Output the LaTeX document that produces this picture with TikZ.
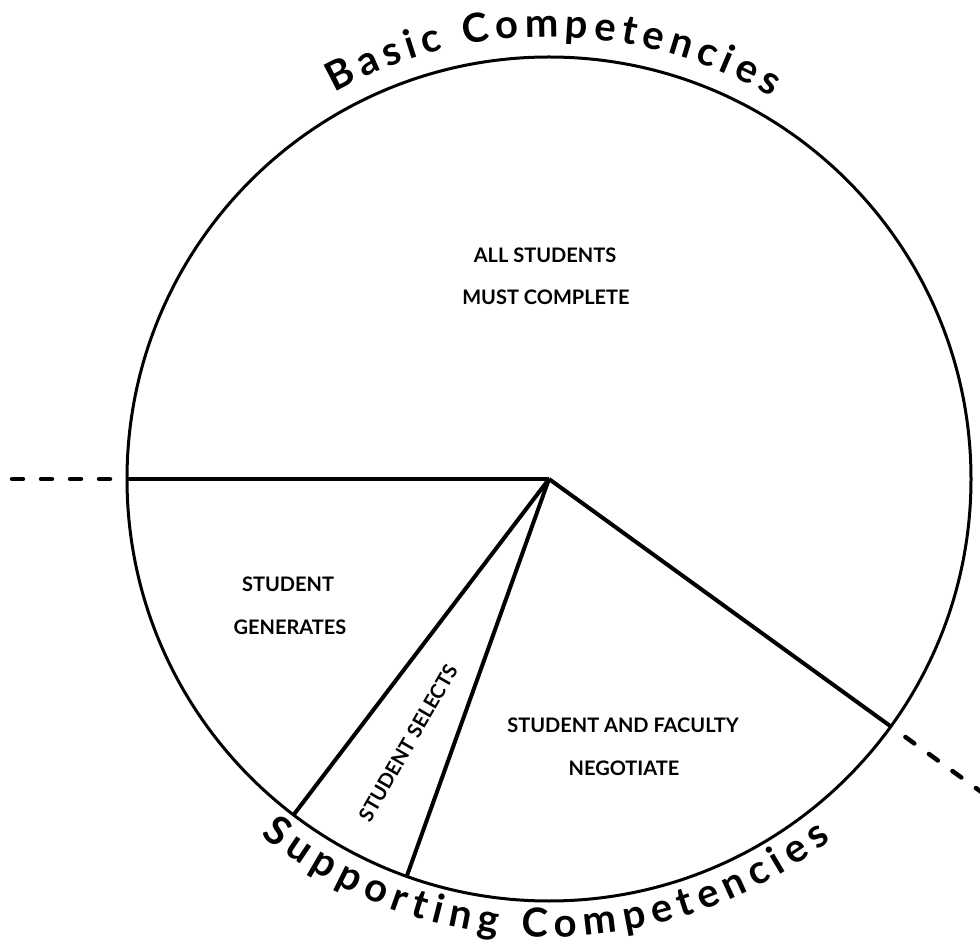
\documentclass[tikz,border=0pt]{standalone}
\usepackage{fontspec}
\setmainfont{Lato}
\usetikzlibrary{decorations.text,calc}
\newcommand\arcfont{\fontsize{40}{44}\selectfont\bfseries}
\begin{document}
\begin{tikzpicture}[x=1pt,y=1pt,
  ring/.style={line width=3pt},
  spoke/.style={line width=4pt},
  guide/.style={line width=4.5pt, line cap=round, dash pattern=on 11pt off 18pt},
  lbl/.style={font=\fontsize{20}{22}\selectfont\bfseries, inner sep=0pt},
  arctext/.style={decorate, decoration={text along path, text align=fit to path, text={|\arcfont|#1}}},
]
\useasboundingbox (0,0) rectangle (980,946);
\coordinate (c) at (549,467);
\draw[ring] (c) circle[radius=422pt];
% spoke ends
\path (c) ++(180:422pt) coordinate (pL);
\path (c) ++(-35.9:422pt) coordinate (pR);
\path (c) ++(232.75:422pt) coordinate (pA);
\path (c) ++(250.3:422pt) coordinate (pB);
\draw[spoke] (c) -- (pL);
\draw[spoke] (c) -- (pR);
\draw[spoke] (c) -- (pA);
\draw[spoke] (c) -- (pB);
% dashed continuations
\path (c) ++(180:537pt) coordinate (dL0);
\path (c) ++(180:439pt) coordinate (dL1);
\path (c) ++(-35.9:440pt) coordinate (dR0);
\path (c) ++(-35.9:545pt) coordinate (dR1);
\draw[guide] (dL0) -- (dL1);
\draw[guide] (dR0) -- (dR1);
% labels
\node[lbl] (all) at (545,691) {ALL STUDENTS};
\node[lbl] (must) at (546,649) {MUST COMPLETE};
\node[lbl] (stu) at (288,362) {STUDENT};
\node[lbl] (gen) at (290,319) {GENERATES};
\node[lbl, rotate=60] (sel) at (408,203) {STUDENT SELECTS};
\node[lbl] (saf) at (623,221) {STUDENT AND FACULTY};
\node[lbl] (neg) at (624,178) {NEGOTIATE};
% curved titles
\path[arctext={Basic Competencies}] (c) ++(119:442pt) arc[start angle=119, end angle=59.7, radius=442pt];
\path[arctext={Supporting Competencies}] (c) ++(231:458pt) arc[start angle=231, end angle=308, radius=458pt];
\end{tikzpicture}
\end{document}
